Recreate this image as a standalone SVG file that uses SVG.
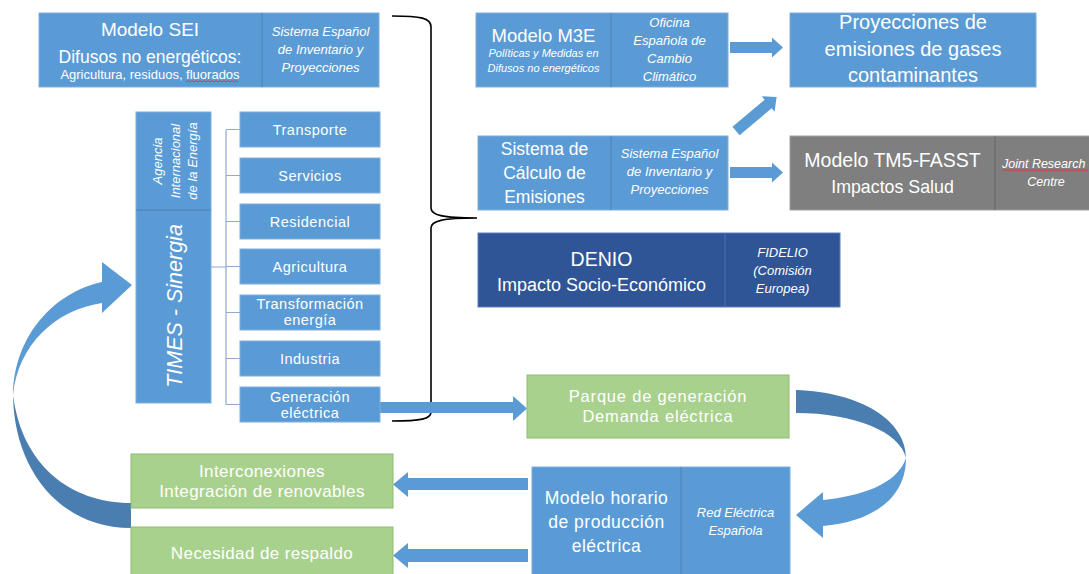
<svg xmlns="http://www.w3.org/2000/svg" width="1089" height="574" viewBox="0 0 1089 574">
<defs>
<style>
text{font-family:"Liberation Sans",Arial,sans-serif;fill:#ffffff;text-anchor:middle}
.it{font-style:italic}
.bl{fill:#5b9bd5;stroke:#7eaedd;stroke-width:1}
.db{fill:#2f5597;stroke:#5a7fc0;stroke-width:1}
.gr{fill:#7f7f7f;stroke:#a0a0a0;stroke-width:1}
.gn{fill:#a9d18e;stroke:#8cbc6c;stroke-width:1}
.dv{stroke:#4a80b8;stroke-width:1}
.dvg{stroke:#666666;stroke-width:1}
.dvd{stroke:#4d72b5;stroke-width:1}
.arr{fill:#5b9bd5}
.dark{fill:#4a7eb0}
.sec{font-size:14.5px;letter-spacing:0.5px}
.tick{stroke:#8fa9cf;stroke-width:1.2;fill:none}
.spell{stroke:#e03030;stroke-width:0.8;fill:none}
</style>
<path id="ar" d="M0,-5.5 H42 V-10 L53,0 L42,10 V5.5 H0 Z"/>
</defs>

<g id="connectors">
  <path class="tick" d="M226,130 V405 M226,129.5 H240 M226,175.5 H240 M226,221.5 H240 M226,266.5 H240 M226,312.5 H240 M226,358.5 H240 M226,404.5 H240 M211,267 H226"/>
  <path d="M392,16 C421,16 431,18 431,27 L431,208 C431,215 442,218 477,218 C442,218 431,221 431,228 L431,412 C431,419 421,421 392,421" fill="none" stroke="#000" stroke-width="1.6"/>
  <use href="#ar" class="arr" transform="translate(730,47.5)"/>
  <use href="#ar" class="arr" transform="translate(730,172.5)"/>
  <use href="#ar" class="arr" transform="translate(736,131) rotate(-40)"/>
  <path class="arr" d="M380,402 H513 V396 L527,408.5 L513,421 V413 H380 Z"/>
  <path class="arr" d="M528,478 H408 V472 L393,484.5 L408,497 V490 H528 Z"/>
  <path class="arr" d="M528,549 H408 V543 L393,555.5 L408,568 V562 H528 Z"/>
  <path class="dark" d="M796,390 C860,392 906,420 906,458 C900,432 855,413 796,413 Z"/>
  <path class="arr" d="M906,458 C906,500 870,522 823,526 L823,500 C860,496 897,485 906,458 Z"/>
  <path class="arr" d="M823,492 L796,515 L823,538 Z"/>
  <path class="arr" d="M102,282 C55,292 14,335 13,395 C18,345 55,310 102,303 Z"/>
  <path class="arr" d="M102,262 L132,285 L102,313 Z"/>
  <path class="dark" d="M13,395 C14,470 60,528 131,528 L131,503 C70,503 22,465 13,395 Z"/>
</g>

<g id="sei">
  <rect class="bl" x="39" y="13" width="340" height="74"/>
  <line class="dv" x1="262" y1="13" x2="262" y2="87"/>
  <text x="150" y="36" font-size="19">Modelo SEI</text>
  <text x="150" y="63" font-size="17.5">Difusos no energéticos:</text>
  <text x="150" y="79" font-size="13">Agricultura, residuos, fluorados</text>
  <path class="spell" d="M186,82 l2,-1.5 l2,1.5 l2,-1.5 l2,1.5 l2,-1.5 l2,1.5 l2,-1.5 l2,1.5 l2,-1.5 l2,1.5 l2,-1.5 l2,1.5 l2,-1.5 l2,1.5 l2,-1.5 l2,1.5 l2,-1.5 l2,1.5 l2,-1.5 l2,1.5 l2,-1.5 l2,1.5 l2,-1.5 l2,1.5 l2,-1.5 l2,1.5"/>
  <text class="it" x="320.5" y="36" font-size="13">Sistema Español</text>
  <text class="it" x="320.5" y="54" font-size="13">de Inventario y</text>
  <text class="it" x="320.5" y="72" font-size="13">Proyecciones</text>
</g>

<g id="m3e">
  <rect class="bl" x="476" y="13" width="252" height="74"/>
  <line class="dv" x1="611" y1="13" x2="611" y2="87"/>
  <text x="543.5" y="42" font-size="18.5">Modelo M3E</text>
  <text class="it" x="543.5" y="57" font-size="11">Políticas y Medidas en</text>
  <text class="it" x="543.5" y="72" font-size="11">Difusos no energéticos</text>
  <text class="it" x="669.5" y="27" font-size="13">Oficina</text>
  <text class="it" x="669.5" y="45" font-size="13">Española de</text>
  <text class="it" x="669.5" y="63" font-size="13">Cambio</text>
  <text class="it" x="669.5" y="81" font-size="13">Climático</text>
</g>

<g id="proyecciones">
  <rect class="bl" x="790" y="13" width="246" height="74"/>
  <text x="913" y="29" font-size="20">Proyecciones de</text>
  <text x="913" y="56" font-size="20">emisiones de gases</text>
  <text x="913" y="82" font-size="20">contaminantes</text>
</g>

<g id="calculo">
  <rect class="bl" x="478" y="136" width="250" height="74"/>
  <line class="dv" x1="611" y1="136" x2="611" y2="210"/>
  <text x="544.5" y="155" font-size="17.5">Sistema de</text>
  <text x="544.5" y="179" font-size="17.5">Cálculo de</text>
  <text x="544.5" y="203" font-size="17.5">Emisiones</text>
  <text class="it" x="669.5" y="158" font-size="13">Sistema Español</text>
  <text class="it" x="669.5" y="176" font-size="13">de Inventario y</text>
  <text class="it" x="669.5" y="194" font-size="13">Proyecciones</text>
</g>

<g id="tm5">
  <rect class="gr" x="790" y="136" width="310" height="74"/>
  <line class="dvg" x1="995" y1="136" x2="995" y2="210"/>
  <text x="892.5" y="167" font-size="19.5">Modelo TM5-FASST</text>
  <text x="892.5" y="193" font-size="17.8">Impactos Salud</text>
  <text class="it" x="1002" y="168" font-size="12.5" style="text-anchor:start">Joint Research</text>
  <path class="spell" d="M1002,171 l2,-1.5 l2,1.5 l2,-1.5 l2,1.5 l2,-1.5 l2,1.5 l2,-1.5 l2,1.5 l2,-1.5 l2,1.5 l2,-1.5 l2,1.5 l2,-1.5 l2,1.5 l2,-1.5 l2,1.5 l2,-1.5 l2,1.5 l2,-1.5 l2,1.5 l2,-1.5 l2,1.5 l2,-1.5 l2,1.5 l2,-1.5 l2,1.5 l2,-1.5 l2,1.5 l2,-1.5 l2,1.5 l2,-1.5 l2,1.5 l2,-1.5 l2,1.5 l2,-1.5 l2,1.5 l2,-1.5 l2,1.5 l2,-1.5 l2,1.5 l2,-1.5 l2,1.5 l2,-1.5"/>
  <text class="it" x="1046" y="186" font-size="12.5">Centre</text>
</g>

<g id="denio">
  <rect class="db" x="478" y="233" width="362" height="74"/>
  <line class="dvd" x1="725" y1="233" x2="725" y2="307"/>
  <text x="601.5" y="265.5" font-size="19.5">DENIO</text>
  <text x="601.5" y="291" font-size="18">Impacto Socio-Económico</text>
  <text class="it" x="782.5" y="257" font-size="13">FIDELIO</text>
  <text class="it" x="782.5" y="275" font-size="13">(Comisión</text>
  <text class="it" x="782.5" y="293" font-size="13">Europea)</text>
</g>

<g id="times">
  <rect class="bl" x="136" y="112" width="75" height="291"/>
  <line class="dv" x1="136" y1="210" x2="211" y2="210"/>
  <g transform="translate(0,161) rotate(-90)">
    <text class="it" x="0" y="162" font-size="13">Agencia</text>
    <text class="it" x="0" y="180" font-size="13">Internacional</text>
    <text class="it" x="0" y="197" font-size="13">de la Energía</text>
  </g>
  <text class="it" transform="translate(182,306) rotate(-90)" x="0" y="0" font-size="21.5">TIMES - Sinergia</text>
</g>

<g id="transporte"><rect class="bl" x="240" y="112" width="140" height="35"/><text class="sec" x="310" y="135">Transporte</text></g>
<g id="servicios"><rect class="bl" x="240" y="158" width="140" height="35"/><text class="sec" x="310" y="181">Servicios</text></g>
<g id="residencial"><rect class="bl" x="240" y="204" width="140" height="35"/><text class="sec" x="310" y="227">Residencial</text></g>
<g id="agricultura"><rect class="bl" x="240" y="249" width="140" height="35"/><text class="sec" x="310" y="272">Agricultura</text></g>
<g id="transformacion"><rect class="bl" x="240" y="295" width="140" height="35"/><text class="sec" x="310" y="309">Transformación</text><text class="sec" x="310" y="325">energía</text></g>
<g id="industria"><rect class="bl" x="240" y="341" width="140" height="35"/><text class="sec" x="310" y="364">Industria</text></g>
<g id="generacion"><rect class="bl" x="240" y="387" width="140" height="35"/><text class="sec" x="310" y="402">Generación</text><text class="sec" x="310" y="418">eléctrica</text></g>

<g id="parque">
  <rect class="gn" x="527" y="375" width="262" height="63"/>
  <text x="658" y="402" font-size="16.5" letter-spacing="0.8">Parque de generación</text>
  <text x="658" y="422" font-size="16.5" letter-spacing="0.8">Demanda eléctrica</text>
</g>

<g id="horario">
  <rect class="bl" x="532" y="467" width="258" height="115"/>
  <line class="dv" x1="681" y1="467" x2="681" y2="574"/>
  <text x="606.5" y="504" font-size="17.5" letter-spacing="0.5">Modelo horario</text>
  <text x="606.5" y="528" font-size="17.5" letter-spacing="0.5">de producción</text>
  <text x="606.5" y="552" font-size="17.5" letter-spacing="0.5">eléctrica</text>
  <text class="it" x="735.5" y="517" font-size="13">Red Eléctrica</text>
  <text class="it" x="735.5" y="535" font-size="13">Española</text>
</g>

<g id="interconexiones">
  <rect class="gn" x="131" y="454" width="262" height="54"/>
  <text x="262" y="477" font-size="17" letter-spacing="0.4">Interconexiones</text>
  <text x="262" y="497" font-size="17" letter-spacing="0.4">Integración de renovables</text>
</g>

<g id="respaldo">
  <rect class="gn" x="131" y="527" width="262" height="55"/>
  <text x="262" y="559" font-size="17" letter-spacing="0.4">Necesidad de respaldo</text>
</g>
</svg>
